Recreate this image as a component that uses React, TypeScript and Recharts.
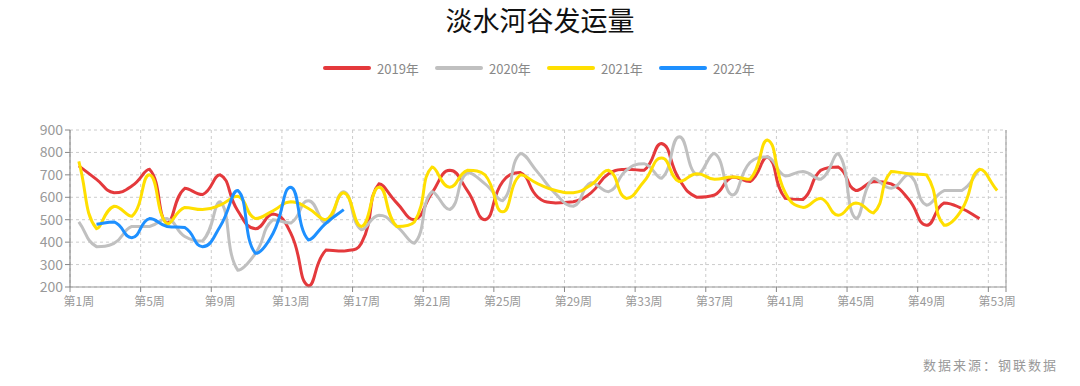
import React from 'react';
import { LineChart, Line, XAxis, YAxis, CartesianGrid, ReferenceLine } from 'recharts';

const weeks: number[] = Array.from({ length: 53 }, (_, i) => i + 1);

const s2019: (number | null)[] = [740, 680, 620, 650, 725, 485, 640, 612, 700, 540, 460, 525, 440, 205, 365, 360, 395, 660, 575, 500, 620, 720, 630, 500, 670, 710, 600, 575, 580, 620, 705, 725, 720, 840, 680, 600, 610, 690, 670, 780, 595, 590, 720, 735, 630, 670, 660, 590, 475, 575, 550, 505, null];
const s2020: (number | null)[] = [490, 380, 395, 470, 470, 505, 425, 405, 580, 275, 350, 500, 485, 585, 485, 625, 455, 520, 470, 395, 625, 545, 710, 660, 585, 795, 710, 615, 560, 665, 625, 720, 750, 685, 870, 700, 795, 610, 755, 780, 695, 715, 680, 795, 505, 685, 640, 700, 565, 630, 630, 725, null];
const s2021: (number | null)[] = [760, 460, 560, 515, 700, 480, 555, 545, 565, 605, 505, 540, 580, 550, 500, 620, 470, 645, 470, 490, 735, 645, 720, 700, 535, 700, 660, 630, 620, 655, 720, 595, 670, 775, 670, 705, 680, 690, 680, 855, 620, 555, 595, 520, 575, 530, 715, 705, 700, 475, 545, 725, 630];
const s2022: (number | null)[] = [null, 480, 490, 420, 505, 470, 465, 380, 470, 630, 350, 440, 645, 410, 485, 545, null, null, null, null, null, null, null, null, null, null, null, null, null, null, null, null, null, null, null, null, null, null, null, null, null, null, null, null, null, null, null, null, null, null, null, null, null];

const seriesNames = ['2019年', '2020年', '2021年', '2022年'];
const seriesColors = ['#e4393c', '#c0c0c0', '#ffdf00', '#1e90ff'];
const yTicks = [200, 300, 400, 500, 600, 700, 800, 900];
const xTicks = [0.5, 4.5, 8.5, 12.5, 16.5, 20.5, 24.5, 28.5, 32.5, 36.5, 40.5, 44.5, 48.5, 52.5, 53.5];

const data = weeks.map((w, i) => ({
  week: w,
  y2019: s2019[i],
  y2020: s2020[i],
  y2021: s2021[i],
  y2022: s2022[i],
}));
const keys = ['y2019', 'y2020', 'y2021', 'y2022'];

const CHART_W = 1080;
const CHART_H = 386;
const M = { top: 130, right: 74, bottom: 69, left: 0 };
const Y_W = 70;
const HALF_BAND = (CHART_W - M.right - M.left - Y_W) / 53 / 2;
const SMOOTH = 0.5;

const font = '"Noto Sans CJK SC", "Noto Sans", sans-serif';

// ECharts-style smooth curve (control points clamped to segment box)
const smoothCurve = (context: any) => {
  let pts: [number, number][] = [];
  const clamp = (v: number, a: number, b: number) => Math.min(Math.max(v, Math.min(a, b)), Math.max(a, b));
  return {
    areaStart() {},
    areaEnd() {},
    lineStart() {
      pts = [];
    },
    point(x: number, y: number) {
      pts.push([+x, +y]);
    },
    lineEnd() {
      const n = pts.length;
      if (n === 0) return;
      context.moveTo(pts[0][0], pts[0][1]);
      if (n === 1) return;
      const inCp: [number, number][] = [];
      const outCp: [number, number][] = [];
      for (let i = 0; i < n; i++) {
        const cur = pts[i];
        const prev = i > 0 ? pts[i - 1] : cur;
        const next = i < n - 1 ? pts[i + 1] : cur;
        const vx = next[0] - prev[0];
        const vy = next[1] - prev[1];
        const lp = Math.hypot(cur[0] - prev[0], cur[1] - prev[1]);
        const ln = Math.hypot(next[0] - cur[0], next[1] - cur[1]);
        const r = lp + ln > 0 ? ln / (lp + ln) : 0.5;
        let ix = cur[0] - vx * SMOOTH * (1 - r);
        let iy = cur[1] - vy * SMOOTH * (1 - r);
        let ox = cur[0] + vx * SMOOTH * r;
        let oy = cur[1] + vy * SMOOTH * r;
        ix = clamp(ix, prev[0], cur[0]);
        iy = clamp(iy, prev[1], cur[1]);
        ox = clamp(ox, cur[0], next[0]);
        oy = clamp(oy, cur[1], next[1]);
        inCp.push([ix, iy]);
        outCp.push([ox, oy]);
      }
      for (let i = 0; i < n - 1; i++) {
        context.bezierCurveTo(outCp[i][0], outCp[i][1], inCp[i + 1][0], inCp[i + 1][1], pts[i + 1][0], pts[i + 1][1]);
      }
    },
  };
};

const XTick = (props: any) => {
  const { x, y, payload } = props;
  const v = payload.value as number;
  const label = v < 53 ? `第${v + 0.5}周` : '';
  return (
    <g>
      <line x1={x} y1={y - 8} x2={x} y2={y - 3} stroke="#888" strokeWidth={1} />
      {label && (
        <text x={x + HALF_BAND} y={y + 11} textAnchor="middle" fill="#999" fontSize={12} fontFamily={font}>
          {label}
        </text>
      )}
    </g>
  );
};

export default function App() {
  return (
    <div style={{ position: 'absolute', left: 0, top: 0, width: CHART_W, height: CHART_H, background: '#fff', fontFamily: font }}>
      <div style={{ position: 'absolute', left: 0, top: 2, width: CHART_W, textAlign: 'center', fontSize: 27, fontWeight: 400, lineHeight: '36px', color: '#111' }}>
        淡水河谷发运量
      </div>
      <div style={{ position: 'absolute', left: 0, top: 58, width: CHART_W, display: 'flex', justifyContent: 'center', alignItems: 'center', height: 20 }}>
        {seriesNames.map((n, i) => (
          <div key={n} style={{ display: 'flex', alignItems: 'center', marginRight: i < 3 ? 14 : 0 }}>
            <div style={{ width: 48, height: 4, borderRadius: 2, background: seriesColors[i] }} />
            <span style={{ marginLeft: 6, fontSize: 13, color: '#888', width: 44 }}>{n}</span>
          </div>
        ))}
      </div>
      <LineChart width={CHART_W} height={CHART_H} data={data} margin={M}>
        <CartesianGrid stroke="#ccc" strokeDasharray="3 3" />
        <XAxis
          dataKey="week"
          type="number"
          domain={[0.5, 53.5]}
          ticks={xTicks}
          interval={0}
          tick={<XTick />}
          tickLine={false}
          axisLine={{ stroke: '#999' }}
          height={30}
          allowDecimals
        />
        <YAxis
          domain={[200, 900]}
          ticks={yTicks}
          width={Y_W}
          tick={{ fill: '#999', fontSize: 14, fontFamily: font }}
          tickLine={{ stroke: '#888' }}
          tickSize={5}
          axisLine={{ stroke: '#777' }}
          interval={0}
        />
        <ReferenceLine x={53.5} stroke="#999" />
        {keys.map((k, i) => (
          <Line
            key={k}
            dataKey={k}
            name={seriesNames[i]}
            type={smoothCurve as any}
            stroke={seriesColors[i]}
            strokeWidth={3}
            dot={false}
            activeDot={false}
            isAnimationActive={false}
            connectNulls={false}
          />
        ))}
      </LineChart>
      <div style={{ position: 'absolute', right: 22, top: 355, fontSize: 13, letterSpacing: 2, color: '#999' }}>
        数据来源：钢联数据
      </div>
    </div>
  );
}
